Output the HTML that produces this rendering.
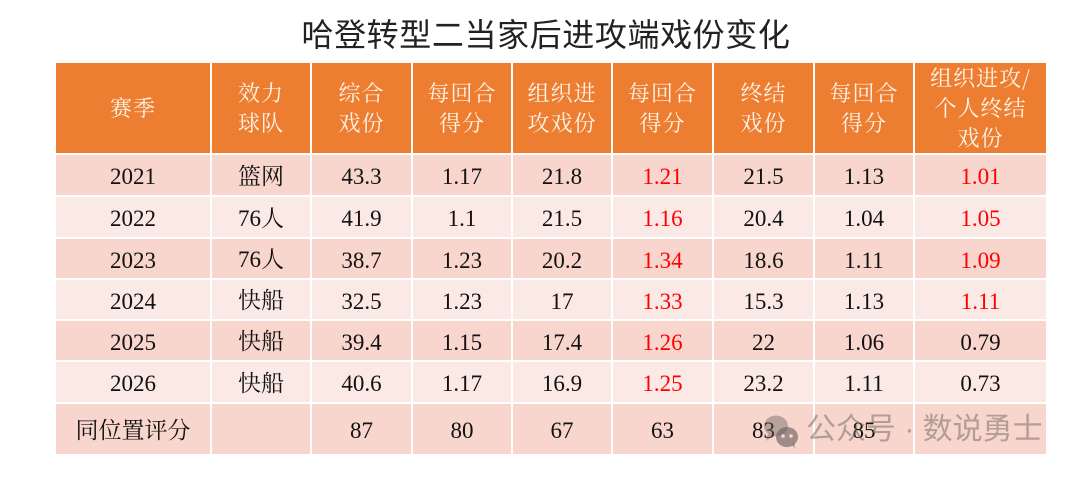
<!DOCTYPE html>
<html><head><meta charset="utf-8">
<style>
html,body{margin:0;padding:0;background:#fff;}
body{width:1080px;height:478px;position:relative;overflow:hidden;}
.t{position:absolute;left:0;width:1080px;top:13px;text-align:center;font-family:"Liberation Sans","Noto Sans CJK SC",sans-serif;font-size:32px;letter-spacing:0.6px;line-height:44px;color:#222;padding-left:12px;box-sizing:border-box;}
.c{position:absolute;display:flex;align-items:center;justify-content:center;text-align:center;box-sizing:border-box;}
.h{background:#ED7D31;color:#FFF4E8;font-family:"Noto Serif CJK SC",serif;font-size:22px;line-height:30px;letter-spacing:1px;}
.d{font-family:"Liberation Serif","Noto Serif CJK SC",serif;font-size:23px;color:#111;}
.d span{position:relative;top:2px;}
.r{color:#F00;}
.o{background:#F8D6CD;}
.e{background:#FBE9E5;}
.wm{position:absolute;left:806px;top:412px;font-family:"Liberation Sans","Noto Sans CJK SC",sans-serif;font-size:30px;letter-spacing:0px;line-height:36px;color:rgba(110,100,98,0.5);white-space:nowrap;}
</style></head><body>
<div class="t">哈登转型二当家后进攻端戏份变化</div>
<div id="tbl"></div>
<script>
var cols=[56,212,312,413,513,613,714,815,915,1048];
var html='';
var hdr=['赛季','效力<br>球队','综合<br>戏份','每回合<br>得分','组织进<br>攻戏份','每回合<br>得分','终结<br>戏份','每回合<br>得分','组织进攻/<br>个人终结<br>戏份'];
for(var i=0;i<9;i++){
 html+='<div class="c h" style="left:'+cols[i]+'px;top:63px;width:'+(cols[i+1]-cols[i]-2)+'px;height:90px;">'+hdr[i]+'</div>';
}
var rows=[
['2021','篮网','43.3','1.17','21.8','*1.21','21.5','1.13','*1.01'],
['2022','76人','41.9','1.1','21.5','*1.16','20.4','1.04','*1.05'],
['2023','76人','38.7','1.23','20.2','*1.34','18.6','1.11','*1.09'],
['2024','快船','32.5','1.23','17','*1.33','15.3','1.13','*1.11'],
['2025','快船','39.4','1.15','17.4','*1.26','22','1.06','0.79'],
['2026','快船','40.6','1.17','16.9','*1.25','23.2','1.11','0.73'],
['同位置评分','','87','80','67','63','83','85','']
];
var tops=[155,197,239,280,321,362,404];
var hs=[40,40,39,39,39,40,50];
for(var r=0;r<rows.length;r++){
 var cls=(r%2==0)?'o':'e';
 for(var i=0;i<9;i++){
  var v=rows[r][i],red='';
  if(v.charAt(0)=='*'){v=v.substring(1);red=' r';}
  if(i==1 || (i==0 && r==6)) v='<span style="top:-1px">'+v+'</span>'; else v='<span>'+v+'</span>';
  html+='<div class="c d '+cls+red+'" style="left:'+cols[i]+'px;top:'+tops[r]+'px;width:'+(cols[i+1]-cols[i]-2)+'px;height:'+hs[r]+'px;">'+v+'</div>';
 }
}
document.getElementById('tbl').innerHTML=html;
</script>
<svg style="position:absolute;left:762px;top:413px" width="42" height="38" viewBox="0 0 42 38">
<ellipse cx="14" cy="13" rx="12" ry="10.5" fill="rgba(110,100,98,0.45)"/>
<path d="M6 21 L4 28 L11 23 Z" fill="rgba(110,100,98,0.45)"/>
<ellipse cx="25" cy="24" rx="11" ry="10" fill="rgba(110,100,98,0.65)"/>
<path d="M30 31 L33 36 L32 30 Z" fill="rgba(110,100,98,0.65)"/>
<circle cx="21" cy="23" r="1.8" fill="#F8D6CD"/>
<circle cx="29" cy="23" r="1.8" fill="#F8D6CD"/>
</svg>
<div class="wm">公众号 · 数说勇士</div>
</body></html>
